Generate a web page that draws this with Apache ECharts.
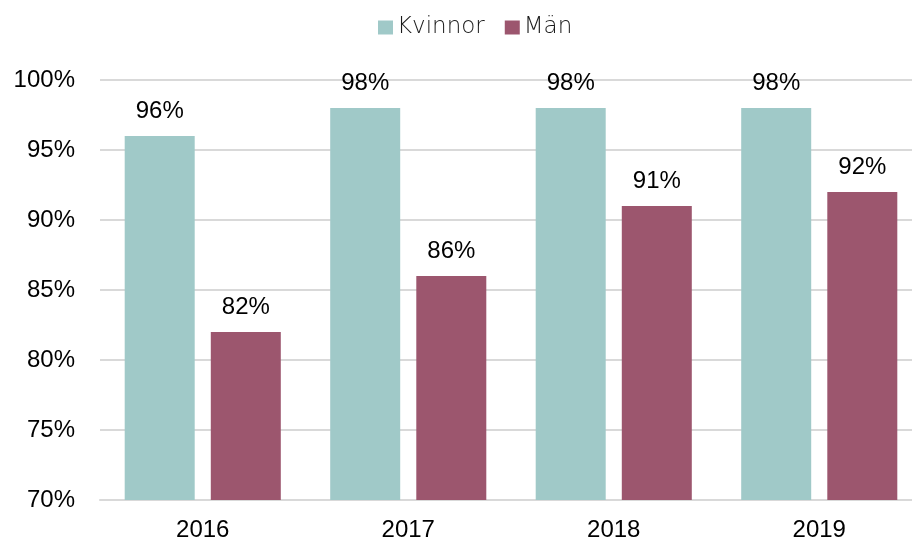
<!DOCTYPE html>
<html><head><meta charset="utf-8">
<script src="https://cdn.jsdelivr.net/npm/echarts@6/dist/echarts.min.js"></script>
<style>html,body{margin:0;padding:0;background:#fff;overflow:hidden}#c{width:912px;height:543px}</style>
</head><body><div id="c"></div>
<script>
const categories = ['2016', '2017', '2018', '2019'];
const kvinnor = [96, 98, 98, 98];
const man = [82, 86, 91, 92];
const seriesNames = ['Kvinnor', 'Män'];

const chart = echarts.init(document.getElementById('c'), null, {renderer: 'canvas'});
const labelStyle = {show: true, position: 'top', distance: 13, formatter: p => p.value + '%',
  fontFamily: 'Liberation Sans, Arial', fontSize: 24, color: '#000'};
chart.setOption({
  animation: false,
  legend: {
    top: 11, left: 373, itemWidth: 15, itemHeight: 14, itemGap: 20,
    icon: 'rect',
    textStyle: {fontFamily: 'DejaVu Sans', fontWeight: 300, fontSize: 23, color: '#1a1a1a', padding: [0,0,0,-1]},
    data: seriesNames
  },
  grid: {left: 100, width: 822, top: 80, bottom: 43, containLabel: false, outerBoundsMode: 'none'},
  xAxis: {
    type: 'category', data: categories,
    axisLine: {show: true, lineStyle: {color: '#d9d9d9', width: 2}},
    axisTick: {show: false},
    axisLabel: {fontFamily: 'Liberation Sans, Arial', fontSize: 24, color: '#000', margin: 18}
  },
  yAxis: {
    type: 'value', min: 70, max: 100, interval: 5,
    axisLine: {show: false}, axisTick: {show: false},
    splitLine: {lineStyle: {color: '#d9d9d9', width: 2}},
    axisLabel: {formatter: v => v + '%', fontFamily: 'Liberation Sans, Arial', fontSize: 24, color: '#000', margin: 25}
  },
  series: [
    {name: seriesNames[0], type: 'bar', data: kvinnor, barWidth: 70, barGap: '23%',
     itemStyle: {color: '#a0c9c8'}, label: labelStyle},
    {name: seriesNames[1], type: 'bar', data: man, barWidth: 70, barGap: '23%',
     itemStyle: {color: '#9c566e'}, label: labelStyle}
  ]
});
</script></body></html>
